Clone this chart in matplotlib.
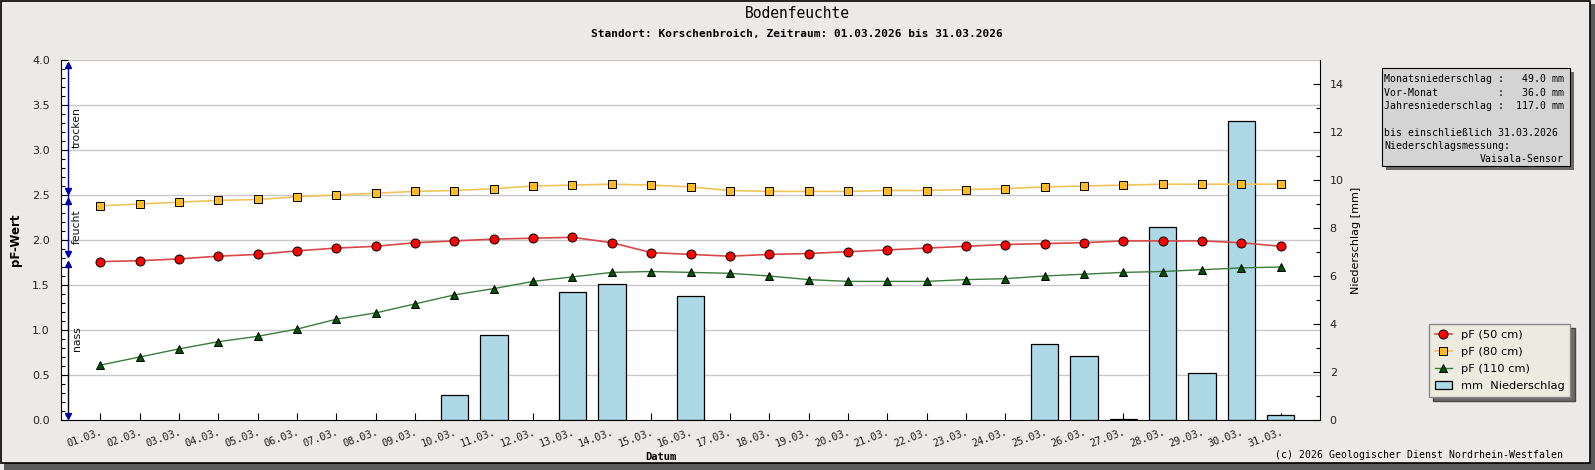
import numpy as np
import matplotlib
matplotlib.use("Agg")
import matplotlib.pyplot as plt
from matplotlib.patches import Rectangle

# Daten
tage = np.arange(1, 32)
datum_labels = [f"{d:02d}.03." for d in tage]

pf_50 = [1.76, 1.77, 1.79, 1.82, 1.84, 1.88, 1.91, 1.93, 1.97, 1.99, 2.01,
         2.02, 2.03, 1.97, 1.86, 1.84, 1.82, 1.84, 1.85, 1.87, 1.89, 1.91,
         1.93, 1.95, 1.96, 1.97, 1.99, 1.99, 1.99, 1.97, 1.93]
pf_80 = [2.38, 2.40, 2.42, 2.44, 2.45, 2.48, 2.50, 2.52, 2.54, 2.55, 2.57,
         2.60, 2.61, 2.62, 2.61, 2.59, 2.55, 2.54, 2.54, 2.54, 2.55, 2.55,
         2.56, 2.57, 2.59, 2.60, 2.61, 2.62, 2.62, 2.62, 2.62]
pf_110 = [0.61, 0.70, 0.79, 0.87, 0.93, 1.01, 1.12, 1.19, 1.29, 1.39, 1.46,
          1.54, 1.59, 1.64, 1.65, 1.64, 1.63, 1.60, 1.56, 1.54, 1.54, 1.54,
          1.56, 1.57, 1.60, 1.62, 1.64, 1.65, 1.67, 1.69, 1.70]
niederschlag = [0, 0, 0, 0, 0, 0, 0, 0, 0, 1.05, 3.55,
                0, 5.35, 5.65, 0, 5.15, 0, 0, 0, 0, 0, 0,
                0, 0, 3.15, 2.65, 0.05, 8.05, 1.95, 12.45, 0.2]

info_lines = ["Monatsniederschlag :   49.0 mm",
              "Vor-Monat          :   36.0 mm",
              "Jahresniederschlag :  117.0 mm",
              "",
              "bis einschließlich 31.03.2026",
              "Niederschlagsmessung:"]
info_sensor = "Vaisala-Sensor"

W, H = 1595, 470
bg = "#eceae8"
mono = "DejaVu Sans Mono"

fig = plt.figure(figsize=(W / 100, H / 100), dpi=100, facecolor=bg)

def fx(px):
    return px / W

def fy(py):
    return 1 - py / H

# Rahmen mit Schatten
fig.patches.append(Rectangle((fx(4), 0), fx(W - 4), fy(463), transform=fig.transFigure,
                             facecolor="#5a5a5a", edgecolor="none", zorder=-10))
fig.patches.append(Rectangle((fx(W - 5), 0), fx(5), fy(4), transform=fig.transFigure,
                             facecolor="#5a5a5a", edgecolor="none", zorder=-10))
fig.patches.append(Rectangle((fx(0.5), fy(463)), fx(1589.5), fy(0.5) - fy(463),
                             transform=fig.transFigure, facecolor=bg,
                             edgecolor="black", lw=1.2, zorder=-9))

left, right, top, bottom = 61, 1320, 60, 420
axb = fig.add_axes([fx(left), fy(bottom), fx(right - left), fy(top) - fy(bottom)])
ax = axb.twinx()
# Linien-Achse (pF) links, Balken-Achse rechts
ax.yaxis.set_ticks_position("left")
ax.yaxis.set_label_position("left")
axb.yaxis.set_ticks_position("right")
axb.yaxis.set_label_position("right")
ax.set_zorder(axb.get_zorder() + 1)
ax.patch.set_visible(False)
axb.set_facecolor("white")

axb.set_xlim(0, 32)
axb.set_ylim(0, 15)
ax.set_ylim(0, 4)

# Gitter (auf pF-Raster)
for g in np.arange(0.5, 4.01, 0.5):
    axb.axhline(g * 15 / 4, color="#c8c8c8", lw=1, zorder=0)

regentage = [t for t, n in zip(tage, niederschlag) if n > 0]
regenwerte = [n for n in niederschlag if n > 0]
bars = axb.bar(regentage, regenwerte, width=0.7, color="#add8e6",
               edgecolor="black", lw=0.9, zorder=2, label="mm  Niederschlag")

l50, = ax.plot(tage, pf_50, color="#d84848", lw=1.2, marker="o", ms=6.5,
               mfc="#ff0000", mec="black", mew=0.7, label="pF (50 cm)")
l80, = ax.plot(tage, pf_80, color="#f0c458", lw=1.2, marker="s", ms=5.3,
               mfc="#ffbb22", mec="black", mew=0.7, label="pF (80 cm)")
l110, = ax.plot(tage, pf_110, color="#3b7d3b", lw=1.0, marker="^", ms=6.3,
                mfc="#005500", mec="black", mew=0.7, label="pF (110 cm)")

# Achsen
for a in (ax, axb):
    a.spines["top"].set_visible(False)
ax.spines["right"].set_visible(False)
ax.spines["bottom"].set_visible(False)
axb.spines["left"].set_visible(False)
ax.spines["left"].set_color("black")
for s in ("right", "bottom"):
    axb.spines[s].set_color("black")

ax.set_yticks(np.arange(0, 4.01, 0.5))
ax.set_yticks(np.arange(0, 4.01, 0.1), minor=True)
ax.set_yticklabels([f"{v:.1f}" for v in np.arange(0, 4.01, 0.5)])
ax.tick_params(axis="y", which="major", direction="in", length=5, width=0.8,
               pad=8, labelsize=8, labelcolor="#222222")
ax.tick_params(axis="y", which="minor", direction="in", length=3, width=0.8)
ax.set_xticks([])

axb.set_yticks(np.arange(0, 15, 2))
axb.set_yticks(np.arange(0, 15, 1), minor=True)
axb.tick_params(axis="y", which="major", direction="in", length=5, width=0.8,
                pad=7, labelsize=8, labelcolor="#222222")
axb.tick_params(axis="y", which="minor", direction="in", length=3, width=0.8)

axb.set_xticks(tage)
axb.set_xticklabels(datum_labels, rotation=20, ha="right", va="top",
                    rotation_mode="anchor", fontsize=7.4, family=mono)
axb.tick_params(axis="x", direction="in", length=5, width=0.8, pad=5,
                labelcolor="#222222")

ax.set_ylabel("pF-Wert", fontsize=8.5, fontweight="bold")
ax.yaxis.set_label_coords((22 - left) / (right - left), 0.5)
axb.set_ylabel("Niederschlag [mm]", fontsize=8)
axb.yaxis.set_label_coords((1351 - left) / (right - left), 0.5)

# Bereichspfeile
tr = ax.get_yaxis_transform()
xa = (68 - left) / (right - left)
xt = (77 - left) / (right - left)
ax.plot([xa, xa], [1.84, 3.94], transform=tr, color="#0000a8", lw=1, clip_on=False)
ax.plot([xa, xa], [0.04, 1.73], transform=tr, color="black", lw=1, clip_on=False)
ax.plot([xa, xa, xa], [3.94, 2.43, 1.73], transform=tr, ls="none", marker="^",
        ms=5, color="#0000a8", clip_on=False)
ax.plot([xa, xa, xa], [2.54, 1.84, 0.04], transform=tr, ls="none", marker="v",
        ms=5, color="#0000a8", clip_on=False)
for txt, yv in (("trocken", 3.25), ("feucht", 2.15), ("nass", 0.9)):
    ax.text(xt, yv, txt, transform=tr, rotation=90, ha="center", va="center",
            fontsize=7.8, color="#111111")

# Legende
leg = ax.legend(handles=[l50, l80, l110, bars], loc="upper left",
                bbox_to_anchor=(fx(1429), fy(324)), bbox_transform=fig.transFigure,
                fontsize=8.2, frameon=True, fancybox=False, borderaxespad=0,
                handlelength=1.5, handletextpad=0.8, labelspacing=0.62,
                borderpad=0.5,
                shadow={"ox": 3, "oy": -3, "facecolor": "#6a6a6a", "alpha": 1})
leg.get_frame().set_facecolor("#ecebe0")
leg.get_frame().set_edgecolor("#8a8a8a")
leg.get_frame().set_linewidth(1)
leg.get_frame().set_alpha(1)

# Infobox
bx0, by0, bx1, by1 = 1382, 68, 1570, 166
fig.patches.append(Rectangle((fx(bx0 + 4), fy(by1 + 4)), fx(bx1 - bx0), fy(by0) - fy(by1),
                             transform=fig.transFigure, facecolor="#6a6a6a",
                             edgecolor="none", zorder=1))
fig.patches.append(Rectangle((fx(bx0), fy(by1)), fx(bx1 - bx0), fy(by0) - fy(by1),
                             transform=fig.transFigure, facecolor="#d4d4d4",
                             edgecolor="black", lw=0.8, zorder=2))
for i, line in enumerate(info_lines):
    if line:
        fig.text(fx(1384), fy(79.3 + i * 13.3), line, family=mono, fontsize=7.15,
                 ha="left", va="center", zorder=3)
fig.text(fx(1564), fy(79.3 + 6 * 13.3), info_sensor, family=mono, fontsize=7.15,
         ha="right", va="center", zorder=3)

# Titel
fig.text(0.5, fy(14), "Bodenfeuchte", family=mono, fontsize=10.5, ha="center", va="center")
fig.text(fx(797), fy(34), "Standort: Korschenbroich, Zeitraum: 01.03.2026 bis 31.03.2026",
         family=mono, fontsize=8, fontweight="bold", ha="center", va="center")
fig.text(fx(661), fy(457), "Datum", family=mono, fontsize=7.5, fontweight="bold",
         ha="center", va="center")
fig.text(fx(1275), fy(454.7), "(c) 2026 Geologischer Dienst Nordrhein-Westfalen",
         family=mono, fontsize=7.15, ha="left", va="center")

fig.savefig("out.png", dpi=100, facecolor=fig.get_facecolor())
